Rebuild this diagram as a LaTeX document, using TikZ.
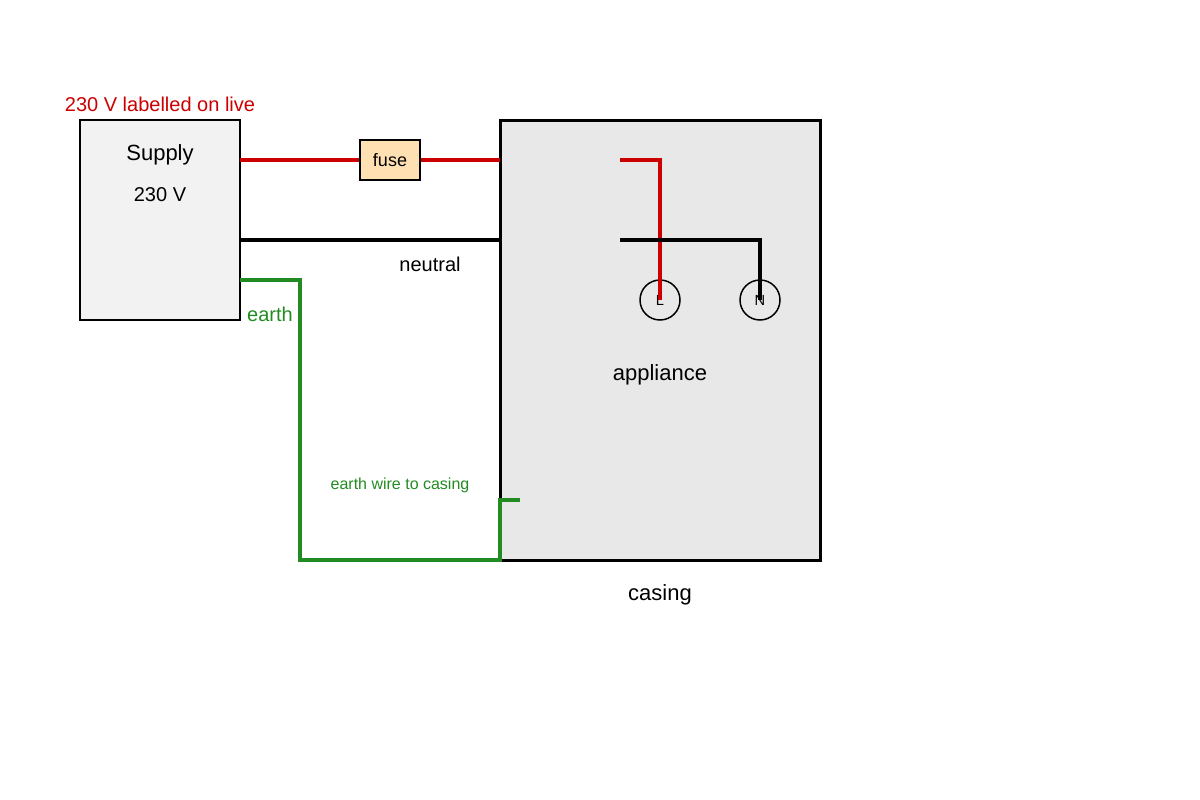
\documentclass[tikz,border=0pt]{standalone}
\usepackage{fontspec}
\setmainfont{Liberation Sans}
\definecolor{live}{HTML}{CC0000}
\definecolor{earthc}{HTML}{228B22}
\begin{document}
\begin{tikzpicture}[x=0.75pt,y=-0.75pt,
  wire/.style={line width=4*0.75pt},
  lbl/.style={font=\fontsize{15}{17}\selectfont,inner sep=0pt},
  big/.style={font=\fontsize{16.5}{19}\selectfont,inner sep=0pt}]
\useasboundingbox (0,0) rectangle (1200,800);
\node[draw,fill={rgb,255:red,242;green,242;blue,242},minimum width=160*0.75pt,minimum height=200*0.75pt,line width=1.5*0.75pt] (sup) at (160,220) {};
\node[big] at (160,155) {Supply};
\node[lbl] at (160,195) {230 V};
\node[lbl,text=live] at (160,104) {230 V labelled on live};
\node[draw,fill={rgb,255:red,232;green,232;blue,232},minimum width=320*0.75pt,minimum height=440*0.75pt,line width=3*0.75pt] (cas) at (660,340) {};
\node[draw,fill={rgb,255:red,255;green,224;blue,178},minimum width=60*0.75pt,minimum height=40*0.75pt,line width=1.5*0.75pt,font=\fontsize{13.5}{15}\selectfont] (fuse) at (390,160) {fuse};
\coordinate (s1) at (240,160); \coordinate (c1) at (500,160);
\coordinate (s2) at (240,240); \coordinate (c2) at (500,240);
\coordinate (s3) at (240,280);
\draw[wire,live] (s1) -- (fuse.west);
\draw[wire,live] (fuse.east) -- (c1);
\draw[wire] (s2) -- (c2);
\draw[wire,earthc] (s3) -- (300,280) -- (300,560) -- (500,560) -- (500,500) -- (520,500);
\node[lbl] at (430,264) {neutral};
\node[lbl,text=earthc] at (270,314) {earth};
\node[inner sep=0pt,text=earthc,font=\fontsize{12}{14}\selectfont] at (400,485) {earth wire to casing};
\node[draw,circle,minimum size=40*0.75pt,line width=1.5*0.75pt,inner sep=0pt,font=\fontsize{11}{13}\selectfont] (L) at (660,300) {L};
\node[draw,circle,minimum size=40*0.75pt,line width=1.5*0.75pt,inner sep=0pt,font=\fontsize{11}{13}\selectfont] (N) at (760,300) {N};
\draw[wire,live] (620,160) -- (660,160) -- (L.center);
\draw[wire] (620,240) -- (760,240) -- (N.center);
\node[big] at (660,375) {appliance};
\node[big] at (660,595) {casing};
\end{tikzpicture}
\end{document}
